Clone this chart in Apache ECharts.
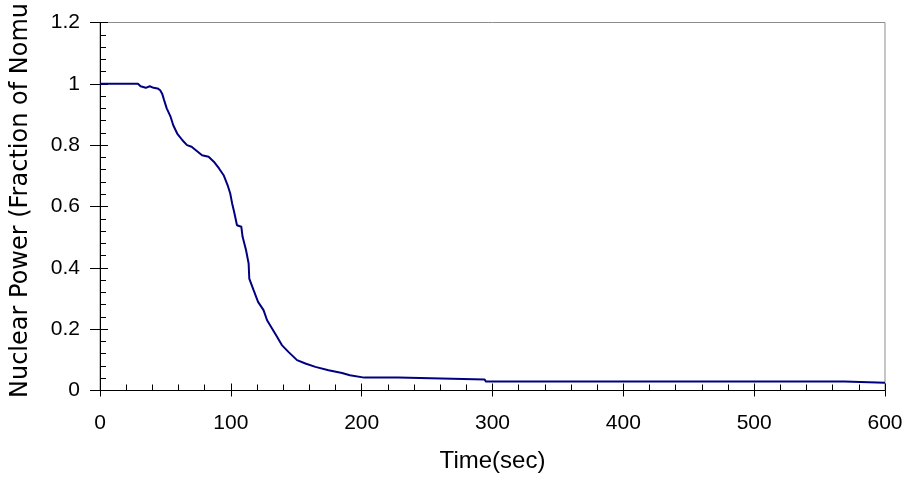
<!DOCTYPE html>
<html>
<head>
<meta charset="utf-8">
<script src="https://cdn.jsdelivr.net/npm/echarts@6/dist/echarts.min.js"></script>
<style>
  html, body { margin: 0; padding: 0; background: #fff; }
  #main { width: 909px; height: 481px; }
</style>
</head>
<body>
<div id="main"></div>
<script>
// values
var timeSec = [0, 29, 31, 35, 38, 41, 44, 46, 47.5, 49,
  51, 54, 56, 59, 63, 66.5, 70, 74, 78, 83,
  87, 91, 94.5, 97.5, 99.5, 101, 102.5, 104.7, 108, 109,
  111.6, 113.6, 114.1, 117.4, 120.8, 125, 127.7, 131.5, 135.3, 139,
  144, 150.6, 157, 164.6, 174.7, 185, 191, 202, 228, 229,
  294, 295, 569, 570, 600];
var nuclearPower = [1, 1, 0.992, 0.987, 0.992, 0.987, 0.985, 0.979, 0.968, 0.947,
  0.92, 0.892, 0.865, 0.838, 0.816, 0.8, 0.795, 0.781, 0.767, 0.762,
  0.746, 0.724, 0.702, 0.67, 0.643, 0.61, 0.583, 0.539, 0.534, 0.501,
  0.458, 0.414, 0.365, 0.327, 0.289, 0.262, 0.229, 0.202, 0.175, 0.148,
  0.126, 0.099, 0.088, 0.077, 0.066, 0.057, 0.05, 0.042, 0.042, 0.036,
  0.036, 0.029, 0.029, 0.025, 0.025];
var xTicks = [0, 100, 200, 300, 400, 500, 600];
var yTicks = [0, 0.2, 0.4, 0.6, 0.8, 1, 1.2];

var chart = echarts.init(document.getElementById('main'));

var pts = [];
for (var i = 0; i < timeSec.length; i++) {
  pts.push([timeSec[i], nuclearPower[i]]);
}

var axisFont = 'Liberation Sans, Arial, sans-serif';
var xMin = xTicks[0], xMax = xTicks[xTicks.length - 1];
var yMin = yTicks[0], yMax = yTicks[yTicks.length - 1];

var option = {
  animation: false,
  grid: {
    left: 100, right: 24, top: 22.5, bottom: 90.5,
    show: true, borderColor: '#8c8c8c', borderWidth: 1,
    outerBoundsMode: 'none'
  },
  xAxis: [{
    type: 'value',
    min: xMin, max: xMax, interval: 100,
    name: 'Time(sec)',
    nameLocation: 'middle',
    nameGap: 59,
    nameTextStyle: { fontFamily: axisFont, fontSize: 24, color: '#000' },
    axisLine: { lineStyle: { color: '#000', width: 1 } },
    axisTick: { inside: true, length: 7, lineStyle: { color: '#000' } },
    minorTick: { show: true, splitNumber: 5, length: 6, lineStyle: { color: '#000' } },
    axisLabel: { fontFamily: axisFont, fontSize: 21, color: '#000', margin: 22 },
    splitLine: { show: false }
  }, {
    // outside half of the crossing major ticks
    type: 'value', position: 'bottom',
    min: xMin, max: xMax, interval: 100,
    axisLine: { show: false },
    axisTick: { inside: false, length: 6, lineStyle: { color: '#000' } },
    minorTick: { show: false },
    axisLabel: { show: false },
    splitLine: { show: false }
  }],
  yAxis: [{
    type: 'value',
    min: yMin, max: yMax, interval: 0.2,
    name: 'Nuclear Power (Fraction of Nomu',
    nameLocation: 'middle',
    nameGap: 67,
    nameTextStyle: { fontFamily: 'DejaVu Sans', fontSize: 24, color: '#000', padding: [0, 0, 0, 12] },
    axisLine: { lineStyle: { color: '#000', width: 1 } },
    axisTick: { inside: true, length: 8, lineStyle: { color: '#000' } },
    minorTick: { show: true, splitNumber: 5, length: 6, lineStyle: { color: '#000' } },
    axisLabel: { fontFamily: axisFont, fontSize: 21, color: '#000', margin: 20 },
    splitLine: { show: false }
  }, {
    type: 'value', position: 'left',
    min: yMin, max: yMax, interval: 0.2,
    axisLine: { show: false },
    axisTick: { inside: false, length: 10, lineStyle: { color: '#000' } },
    minorTick: { show: false },
    axisLabel: { show: false },
    splitLine: { show: false }
  }],
  series: [{
    type: 'line',
    data: pts,
    showSymbol: false,
    lineStyle: { color: '#000080', width: 2 },
    itemStyle: { color: '#000080' }
  }]
};
chart.setOption(option);
</script>
</body>
</html>
